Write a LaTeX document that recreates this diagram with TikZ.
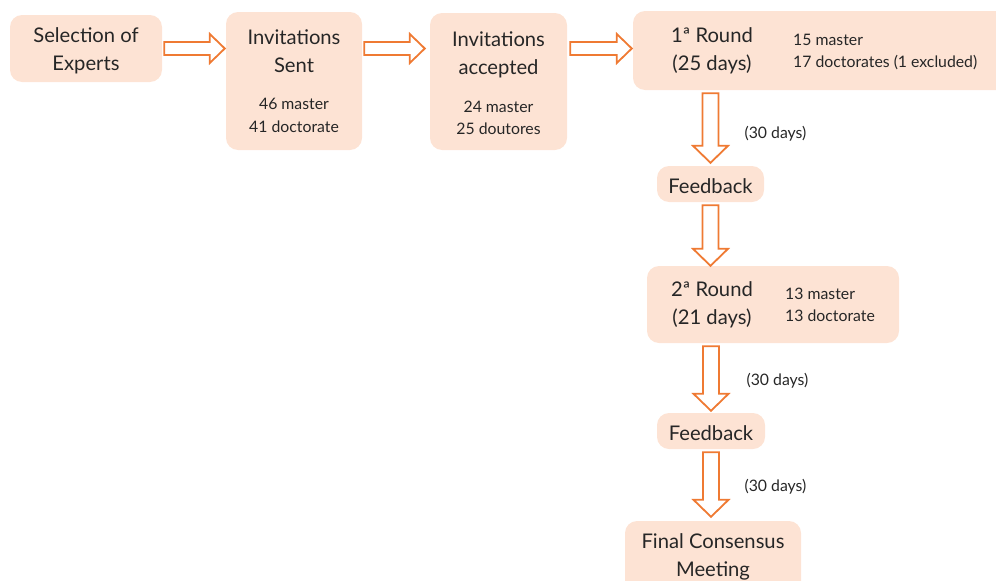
\documentclass[tikz,border=0pt]{standalone}
\usepackage{fontspec}
\setmainfont{Lato}
\usetikzlibrary{calc}

\definecolor{boxfill}{HTML}{FDE3D4}
\definecolor{flowline}{HTML}{EF7A33}
\definecolor{ink}{HTML}{262626}

\tikzset{
  box/.style={fill=boxfill, rounded corners=12pt, inner sep=0pt},
  title/.style={font=\fontsize{20.2}{28}\selectfont, text=ink, align=center, inner sep=0pt},
  stats/.style={font=\fontsize{15.8}{22.5}\selectfont, text=ink, inner sep=0pt},
  flow/.style={draw=flowline, fill=white, line width=1.8pt, line join=miter},
}

% hollow block arrows between two points
\newcommand{\hflow}[2]{%
  \draw[flow] let \p1=(#1), \p2=(#2) in
    (\x1,\y1+6.5pt) -- (\x2-15pt,\y1+6.5pt) -- (\x2-15pt,\y1+14.5pt) -- (\x2,\y1)
    -- (\x2-15pt,\y1-14.5pt) -- (\x2-15pt,\y1-6.5pt) -- (\x1,\y1-6.5pt) -- cycle;}
\newcommand{\vflow}[2]{%
  \draw[flow] let \p1=(#1), \p2=(#2) in
    (\x1-8pt,\y1) -- (\x1-8pt,\y2+17pt) -- (\x1-17.5pt,\y2+17pt) -- (\x1,\y2)
    -- (\x1+17.5pt,\y2+17pt) -- (\x1+8pt,\y2+17pt) -- (\x1+8pt,\y1) -- cycle;}

\begin{document}
\begin{tikzpicture}[x=1pt, y=-1pt]
  \useasboundingbox (0,0) rectangle (996,581);

  % top row
  \node[box, minimum width=152, minimum height=67] (sel) at (86,48.5) {};
  \node[title] (selT) at (86,51) {Selection of\\Experts};

  \node[box, minimum width=136, minimum height=138] (sent) at (294,81) {};
  \node[title] (sentT) at (294,51) {Invitations\\Sent};
  \node[stats, align=center] (sentS) at (294,115.5) {46 master\\41 doctorate};

  \node[box, minimum width=137, minimum height=137] (acc) at (498.5,81.5) {};
  \node[title] (accT) at (498.5,54.5) {Invitations\\accepted};
  \node[stats, align=center] (accS) at (498.5,118) {24 master\\25 doutores};

  \node[box, minimum width=377, minimum height=79] (r1) at (821.5,50.5) {};
  \node[title] (r1T) at (712,51) {1ª Round\\(25 days)};
  \node[stats, align=left, anchor=west] (r1S) at (793,52) {15 master\\17 doctorates (1 excluded)};

  % right column
  \node[box, minimum width=107, minimum height=36] (fb1) at (710.5,184) {};
  \node[title] (fb1T) at (710.5,186) {Feedback};

  \node[box, minimum width=252, minimum height=77] (r2) at (773,304.5) {};
  \node[title] (r2T) at (712,305) {2ª Round\\(21 days)};
  \node[stats, align=left, anchor=west] (r2S) at (785,305) {13 master\\13 doctorate};

  \node[box, minimum width=108, minimum height=36] (fb2) at (711,431) {};
  \node[title] (fb2T) at (711,433) {Feedback};

  \node[box, minimum width=176, minimum height=79] (fin) at (713,560.5) {};
  \node[title] (finT) at (713,557) {Final Consensus\\Meeting};

  % arrows
  \hflow{[xshift=2pt]sel.east}{[xshift=-1pt]sent.west |- sel.east}
  \hflow{[xshift=2pt]sent.east |- sel.east}{[xshift=-5pt]acc.west |- sel.east}
  \hflow{[xshift=3pt]acc.east |- sel.east}{[xshift=-1pt]r1.west |- sel.east}

  \vflow{[yshift=-3pt]fb1 |- r1.south}{[yshift=3pt]fb1.north}
  \vflow{[yshift=-3pt]fb1.south}{fb1 |- r2.north}
  \vflow{[yshift=-3pt]fb2 |- r2.south}{[yshift=2pt]fb2.north}
  \vflow{[yshift=-3pt]fb2.south}{[yshift=4pt]fb2 |- fin.north}

  \node[stats] (d1) at (775.5,134) {(30 days)};
  \node[stats] (d2) at (777.5,381) {(30 days)};
  \node[stats] (d3) at (775.5,487) {(30 days)};
\end{tikzpicture}
\end{document}
